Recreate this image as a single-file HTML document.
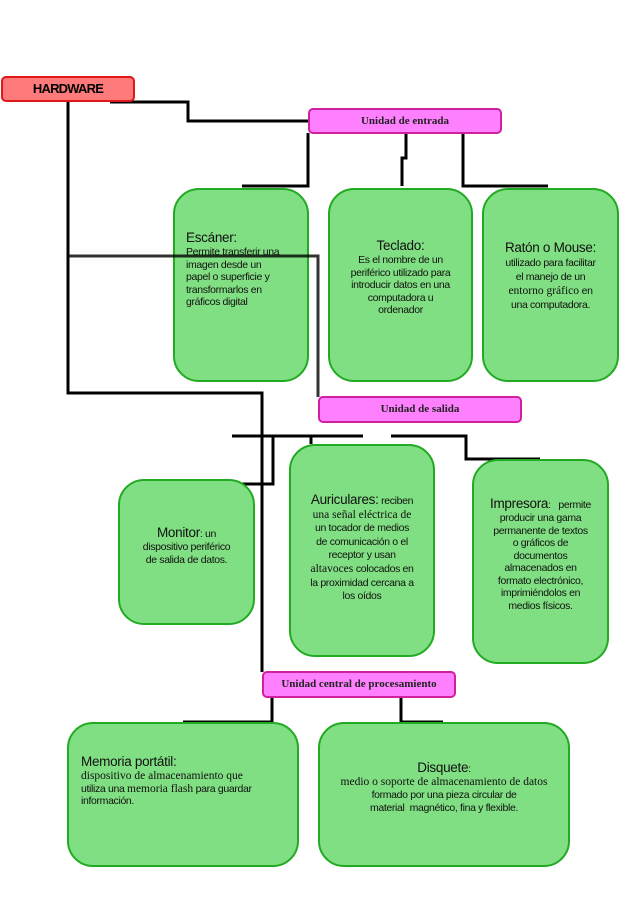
<!DOCTYPE html>
<html><head><meta charset="utf-8"><style>
body{margin:0;width:638px;height:903px;background:#fff;position:relative;overflow:hidden;font-family:"Liberation Sans",sans-serif}
.b{position:absolute;box-sizing:border-box;background:#80df82;border:2px solid #22aa22;border-radius:26px;color:#111;font-size:10.5px;line-height:12.5px;letter-spacing:-0.35px;white-space:nowrap}
.p{position:absolute;box-sizing:border-box;background:#ff80ff;border:2px solid #d020a0;border-radius:5px;font-family:"Liberation Serif",serif;font-weight:bold;font-size:11px;text-align:center;color:#222}
.t{font-size:13.5px;line-height:16px;letter-spacing:-0.3px}
.s{font-family:"Liberation Serif",serif;font-size:11.5px;letter-spacing:0}
svg{position:absolute;left:0;top:0}
</style></head><body>
<svg width="638" height="903"><g stroke="#000" stroke-width="3" fill="none">
<polyline points="110,102 188,102 188,121 310,121"/>
<polyline points="68,100 68,393 262,393 262,672"/>
<polyline points="308,133 308,186 242,186"/>
<polyline points="406,133 406,158 402,158 402,186"/>
<polyline points="463,133 463,186 548,186"/>
<line x1="232" y1="436" x2="363" y2="436"/>
<polyline points="391,436 466,436 466,459 540,459"/>
<polyline points="273,436 273,484 183,484"/>
<line x1="311" y1="436" x2="311" y2="444"/>
<polyline points="272,697 272,722 183,722"/>
<polyline points="401,697 401,722 443,722"/>
</g></svg>
<div style="position:absolute;left:1px;top:76px;width:134px;height:26px;box-sizing:border-box;background:#ff7a7a;border:2px solid #e01818;border-radius:5px;text-align:center;font-weight:bold;font-size:13px;line-height:22px;letter-spacing:-0.8px">HARDWARE</div>
<div class="p" style="left:308px;top:108px;width:194px;height:26px;line-height:22px">Unidad de entrada</div>
<div class="p" style="left:318px;top:396px;width:204px;height:27px;line-height:23px">Unidad de salida</div>
<div class="p" style="left:262px;top:671px;width:194px;height:27px;line-height:23px">Unidad central de procesamiento</div>

<div class="b" style="left:173px;top:188px;width:136px;height:194px;padding:40px 0 0 11px"><span class="t">Escáner:</span><br>Permite transferir una<br>imagen desde un<br>papel o superficie y<br>transformarlos en<br>gráficos digital</div>
<div class="b" style="left:328px;top:188px;width:145px;height:194px;padding:48px 0 0;text-align:center"><span class="t">Teclado:</span><br>Es el nombre de un<br>periférico utilizado para<br>introducir datos en una<br>computadora u<br>ordenador</div>
<div class="b" style="left:482px;top:188px;width:137px;height:194px;padding:50px 0 0;text-align:center;line-height:14px"><span class="t">Ratón o Mouse:</span><br>utilizado para facilitar<br>el manejo de un<br><span class="s">entorno gráfico</span> en<br>una computadora.</div>

<div class="b" style="left:118px;top:479px;width:137px;height:146px;padding:44px 0 0;text-align:center"><span class="t">Monitor</span>: un<br>dispositivo periférico<br>de salida de datos.</div>
<div class="b" style="left:289px;top:444px;width:146px;height:213px;padding:46px 0 0;text-align:center;line-height:13.6px"><span class="t">Auriculares:</span> reciben<br><span class="s">una señal eléctrica de</span><br>un tocador de medios<br>de comunicación o el<br>receptor y usan<br><span class="s">altavoces</span> colocados en<br>la proximidad cercana a<br>los oídos</div>
<div class="b" style="left:472px;top:459px;width:137px;height:205px;padding:35px 0 0;text-align:center"><span class="t">Impresora</span>: &nbsp; permite<br>producir una gama<br>permanente de textos<br>o gráficos de<br>documentos<br>almacenados en<br>formato electrónico,<br>imprimiéndolos en<br>medios físicos.</div>

<div class="b" style="left:67px;top:722px;width:232px;height:145px;padding:30px 0 0 12px"><span class="t">Memoria portátil:</span><br><span class="s">dispositivo de almacenamiento que</span><br>utiliza una <span class="s">memoria flash</span> para guardar<br>información.</div>
<div class="b" style="left:318px;top:722px;width:252px;height:145px;padding:36px 0 0;text-align:center;line-height:13px"><span class="t">Disquete</span>:<br><span class="s">medio o soporte de almacenamiento de datos</span><br>formado por una pieza circular de<br>material &nbsp;magnético, fina y flexible.</div>
<svg width="638" height="903" style="z-index:2"><g stroke="#000" stroke-width="3" fill="none" opacity="0.8">
<polyline points="68,256 318,256 318,397"/>
</g></svg>
</body></html>
